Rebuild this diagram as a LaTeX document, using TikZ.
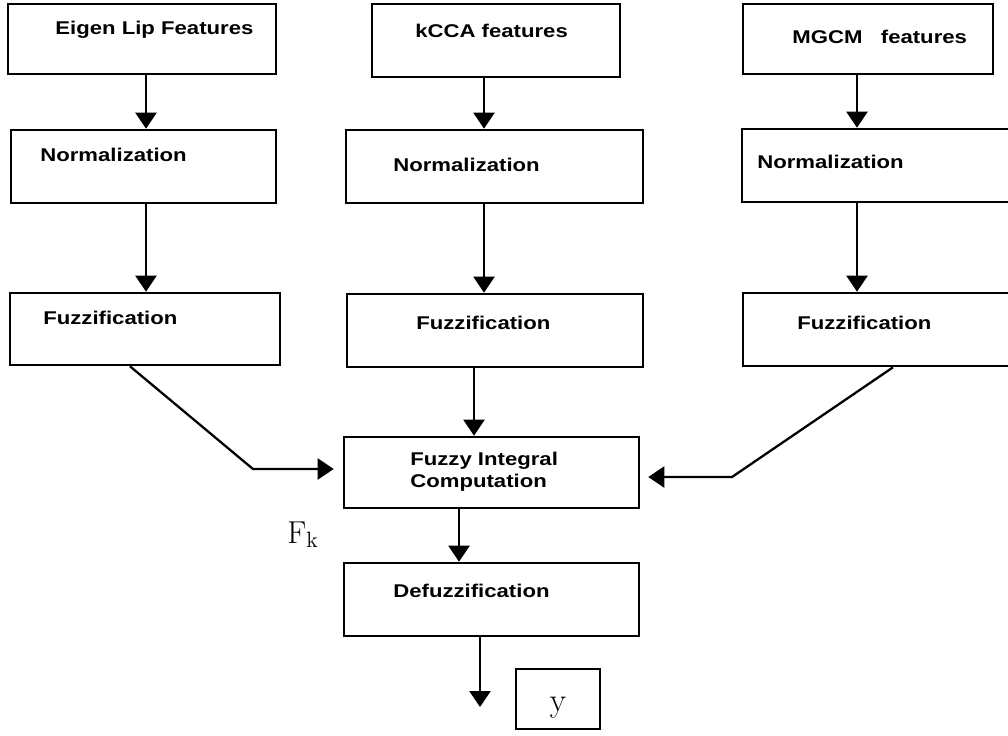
\documentclass[tikz,border=0pt]{standalone}
\usepackage{fontspec}
\newfontfamily\boxfont[FakeStretch=1.2]{Liberation Sans}
\usetikzlibrary{arrows.meta}

\begin{document}
\begin{tikzpicture}[
    x=0.02cm, y=-0.02cm,
    box/.style={rectangle, draw=black, line width=1.5pt, inner sep=0pt},
    txt/.style={anchor=base west, inner sep=0pt, align=left, font={\boxfont\bfseries\fontsize{10.5}{12.5}\selectfont}},
    arrow/.style={-{Triangle[width=0.42cm, length=0.32cm]}, line width=1.3pt}
]
\useasboundingbox (0,0) rectangle (1008,735);
\node (eig) [box, minimum width=5.36cm, minimum height=1.40cm] at (142,39) {};
\node (kcca) [box, minimum width=4.96cm, minimum height=1.46cm] at (496,40.5) {};
\node (mgcm) [box, minimum width=5.00cm, minimum height=1.40cm] at (868,39) {};
\node (norm1) [box, minimum width=5.30cm, minimum height=1.46cm] at (143.5,166.5) {};
\node (norm2) [box, minimum width=5.94cm, minimum height=1.46cm] at (494.5,166.5) {};
\node (norm3) [box, minimum width=5.46cm, minimum height=1.46cm] at (878.5,165.5) {};
\node (fuzz1) [box, minimum width=5.40cm, minimum height=1.44cm] at (145,329) {};
\node (fuzz2) [box, minimum width=5.92cm, minimum height=1.46cm] at (495,330.5) {};
\node (fuzz3) [box, minimum width=5.44cm, minimum height=1.46cm] at (879,329.5) {};
\node (integ) [box, minimum width=5.90cm, minimum height=1.42cm] at (491.5,472.5) {};
\node (defuzz) [box, minimum width=5.90cm, minimum height=1.46cm] at (491.5,599.5) {};
\node (yout) [box, minimum width=1.68cm, minimum height=1.20cm, text height=0.62cm, text depth=0.14cm, font=\fontsize{19}{22}\selectfont] at (558,699) {y};
\node (t-eig) [txt] at (55,34) {Eigen Lip Features};
\node (t-kcca) [txt] at (415,37) {kCCA features};
\node (t-mgcm) [txt] at (792,43) {MGCM~~ features};
\node (t-norm1) [txt] at (40,161) {Normalization};
\node (t-norm2) [txt] at (393,171) {Normalization};
\node (t-norm3) [txt] at (757,168) {Normalization};
\node (t-fuzz1) [txt] at (43,324) {Fuzzification};
\node (t-fuzz2) [txt] at (416,329) {Fuzzification};
\node (t-fuzz3) [txt] at (797,329) {Fuzzification};
\node (t-integ) [txt] at (410,487) {Fuzzy Integral\\Computation};
\node (t-defuzz) [txt] at (393,597) {Defuzzification};
\node (fk) [anchor=base west, inner sep=0pt, font=\fontsize{18}{20}\selectfont] at (287,543) {$\mathrm{F_k}$};
\coordinate (bendl) at (253,469);
\coordinate (bendr) at (732,477);
\coordinate (outend) at (480,707);
\draw [arrow] ([xshift=0.08cm]eig.south) -- ([xshift=0.08cm]eig.south |- norm1.north);
\draw [arrow] ([xshift=0.05cm]norm1.south) -- ([xshift=0.05cm]norm1.south |- fuzz1.north);
\draw [arrow] ([xshift=-0.24cm]kcca.south) -- ([xshift=-0.24cm]kcca.south |- norm2.north);
\draw [arrow] ([xshift=-0.21cm]norm2.south) -- ([xshift=-0.21cm]norm2.south |- fuzz2.north);
\draw [arrow] ([xshift=-0.22cm]mgcm.south) -- ([xshift=-0.22cm]mgcm.south |- norm3.north);
\draw [arrow] ([xshift=-0.43cm]norm3.south) -- ([xshift=-0.43cm]norm3.south |- fuzz3.north);
\draw [arrow] ([xshift=-0.42cm]fuzz2.south) -- ([xshift=-0.42cm]fuzz2.south |- integ.north);
\draw [arrow, shorten >=0.18cm] ([xshift=-0.30cm]fuzz1.south) -- (bendl) -- (bendl -| integ.west);
\draw [arrow, shorten >=0.16cm] ([xshift=0.28cm]fuzz3.south) -- (bendr) -- (bendr -| integ.east);
\draw [arrow] ([xshift=-0.65cm]integ.south) -- ([xshift=-0.65cm]integ.south |- defuzz.north);
\draw [arrow] (defuzz.south -| outend) -- (outend);
\end{tikzpicture}
\end{document}
